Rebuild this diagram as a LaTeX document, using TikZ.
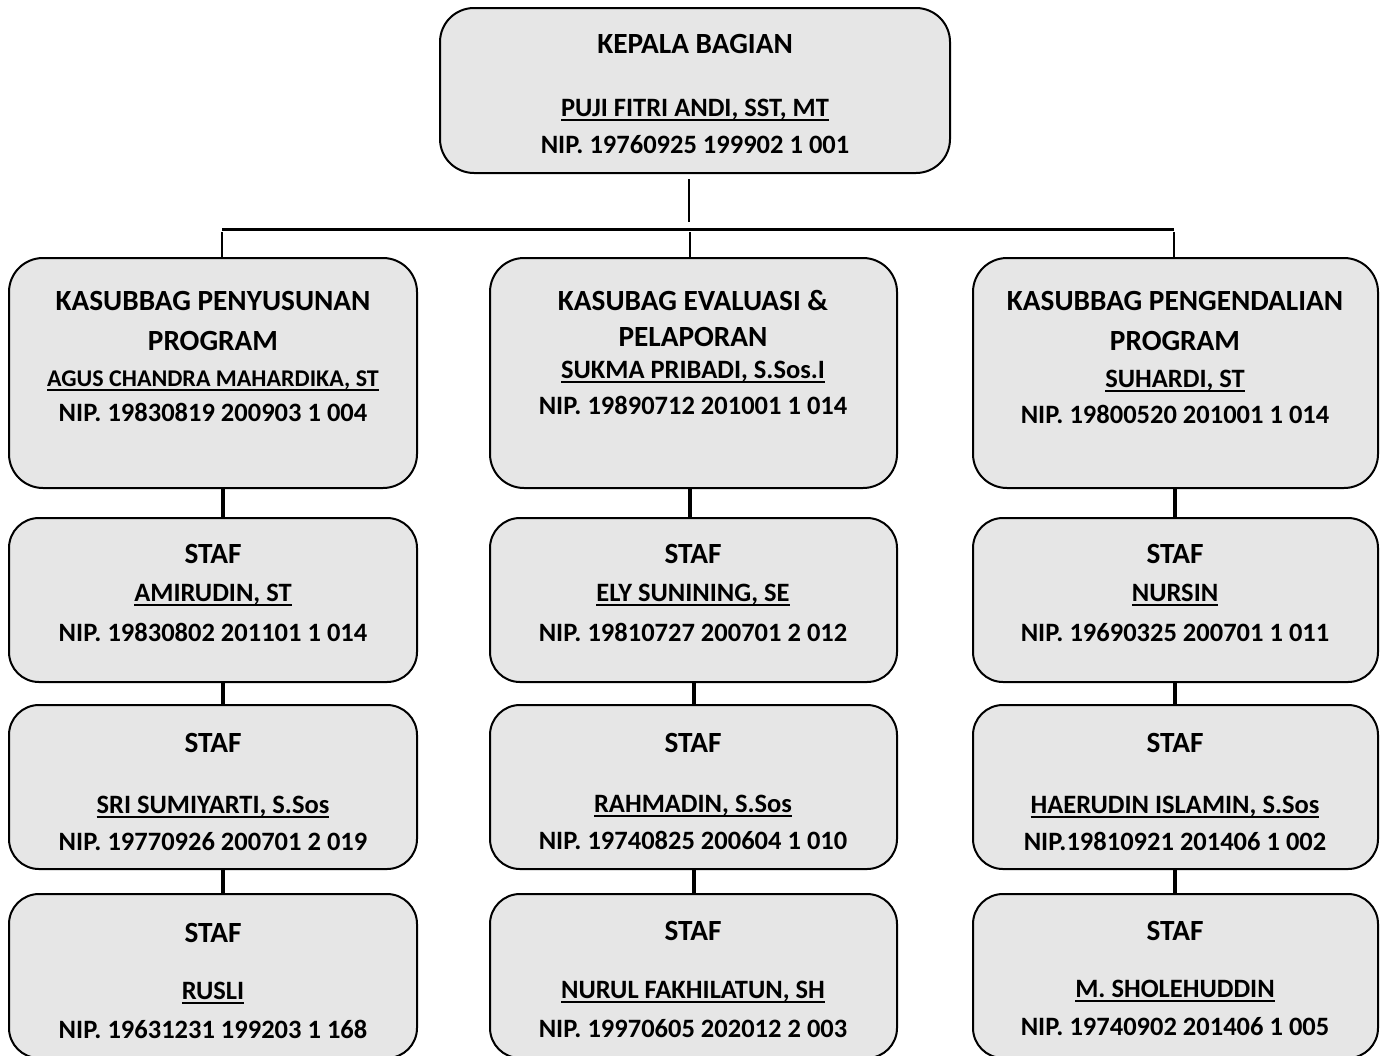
\documentclass[tikz,border=0pt]{standalone}
\usepackage{fontspec}
\setmainfont{Carlito}
\definecolor{boxfill}{HTML}{E6E6E6}
\newcommand\nameul[1]{\setbox0\hbox{#1}\rlap{\rule[-4.6pt]{\wd0}{2pt}}\box0}
\begin{document}
\begin{tikzpicture}[x=1pt,y=-1pt,
  box/.style={draw=black, line width=2pt, fill=boxfill, rounded corners=#1, inner sep=0pt},
  box/.default=34pt,
  txt/.style={anchor=base, font=\fontsize{26.5}{30}\selectfont\bfseries, inner sep=0pt},
  ttl/.style={anchor=base, font=\fontsize{29.3}{33}\selectfont\bfseries, inner sep=0pt},
  sml/.style={anchor=base, font=\fontsize{24}{28}\selectfont\bfseries, inner sep=0pt},
  link/.style={line width=4pt},
  tree/.style={line width=2.2pt},
  bar/.style={line width=3pt}]
\useasboundingbox (0,0) rectangle (1380,1055);
\clip (0,0) rectangle (1380,1055);

% ---- boxes
\node[box] (top) at (695,90.5) [minimum width=510pt, minimum height=165pt] {};

\node[box] (k1) at (213,373) [minimum width=408pt, minimum height=230pt] {};
\node[box] (k2) at (693.5,373) [minimum width=407pt, minimum height=230pt] {};
\node[box] (k3) at (1175.5,373) [minimum width=405pt, minimum height=230pt] {};

\foreach \c/\x/\w in {1/213/408, 2/693.5/407, 3/1175.5/405}{
  \node[box=30pt] (a\c) at (\x,600) [minimum width=\w pt, minimum height=164pt] {};
  \node[box=30pt] (b\c) at (\x,787) [minimum width=\w pt, minimum height=164pt] {};
  \node[box=30pt] (c\c) at (\x,976) [minimum width=\w pt, minimum height=164pt] {};
}

% ---- tree connectors
\coordinate (t1) at (689,179);
\coordinate (t2) at (689,222);
\coordinate (hl) at (222,229);
\coordinate (hr) at (1174,229);
\coordinate (d1) at (222,232);
\coordinate (d2) at (690,232);
\coordinate (d3) at (1174,232);
\draw[tree] (t1) -- (t2);
\draw[bar] (hl) -- (hr);
\draw[tree] (d1) -- (d1 |- k1.north);
\draw[tree] (d2) -- (d2 |- k2.north);
\draw[tree] (d3) -- (d3 |- k3.north);

% ---- column connectors
\coordinate (x1) at (222.5,0);
\coordinate (x2a) at (690,0);
\coordinate (x2) at (694,0);
\coordinate (x3) at (1174.5,0);
\draw[link] (k1.south -| x1) -- (a1.north -| x1);
\draw[link] (a1.south -| x1) -- (b1.north -| x1);
\draw[link] (b1.south -| x1) -- (c1.north -| x1);
\draw[link] (k2.south -| x2a) -- (a2.north -| x2a);
\draw[link] (a2.south -| x2) -- (b2.north -| x2);
\draw[link] (b2.south -| x2) -- (c2.north -| x2);
\draw[link] (k3.south -| x3) -- (a3.north -| x3);
\draw[link] (a3.south -| x3) -- (b3.north -| x3);
\draw[link] (b3.south -| x3) -- (c3.north -| x3);

% ---- texts: top
\node[ttl] (top1) at (695,53) {KEPALA BAGIAN};
\node[txt] (top2) at (695,116.7) {\nameul{PUJI FITRI ANDI, SST, MT}};
\node[txt] (top3) at (695,153.5) {NIP. 19760925 199902 1 001};

% ---- row 1
\node[ttl] (k1t1) at (213,310) {KASUBBAG PENYUSUNAN};
\node[ttl] (k1t2) at (213,350) {PROGRAM};
\node[sml] (k1t3) at (213,386.7) {\nameul{AGUS CHANDRA MAHARDIKA, ST}};
\node[txt] (k1t4) at (213,421.7) {NIP. 19830819 200903 1 004};

\node[ttl] (k2t1) at (693,310) {KASUBAG EVALUASI \&};
\node[ttl] (k2t2) at (693,346.5) {PELAPORAN};
\node[txt] (k2t3) at (693,378.5) {\nameul{SUKMA PRIBADI, S.Sos.I}};
\node[txt] (k2t4) at (693,414.5) {NIP. 19890712 201001 1 014};

\node[ttl] (k3t1) at (1175,310) {KASUBBAG PENGENDALIAN};
\node[ttl] (k3t2) at (1175,350) {PROGRAM};
\node[txt] (k3t3) at (1175,387) {\nameul{SUHARDI, ST}};
\node[txt] (k3t4) at (1175,423) {NIP. 19800520 201001 1 014};

% ---- row 2
\node[ttl] (a1t1) at (213,563.5) {STAF};
\node[txt] (a1t2) at (213,601.5) {\nameul{AMIRUDIN, ST}};
\node[txt] (a1t3) at (213,641) {NIP. 19830802 201101 1 014};

\node[ttl] (a2t1) at (693,563.5) {STAF};
\node[txt] (a2t2) at (693,601.5) {\nameul{ELY SUNINING, SE}};
\node[txt] (a2t3) at (693,641) {NIP. 19810727 200701 2 012};

\node[ttl] (a3t1) at (1175,563.5) {STAF};
\node[txt] (a3t2) at (1175,601.5) {\nameul{NURSIN}};
\node[txt] (a3t3) at (1175,641) {NIP. 19690325 200701 1 011};

% ---- row 3
\node[ttl] (b1t1) at (213,752.5) {STAF};
\node[txt] (b1t2) at (213,813) {\nameul{SRI SUMIYARTI, S.Sos}};
\node[txt] (b1t3) at (213,850) {NIP. 19770926 200701 2 019};

\node[ttl] (b2t1) at (693,752.5) {STAF};
\node[txt] (b2t2) at (693,812) {\nameul{RAHMADIN, S.Sos}};
\node[txt] (b2t3) at (693,849) {NIP. 19740825 200604 1 010};

\node[ttl] (b3t1) at (1175,752.5) {STAF};
\node[txt] (b3t2) at (1175,813) {\nameul{HAERUDIN ISLAMIN, S.Sos}};
\node[txt] (b3t3) at (1175,850) {NIP.19810921 201406 1 002};

% ---- row 4
\node[ttl] (c1t1) at (213,942) {STAF};
\node[txt] (c1t2) at (213,999) {\nameul{RUSLI}};
\node[txt] (c1t3) at (213,1038) {NIP. 19631231 199203 1 168};

\node[ttl] (c2t1) at (693,940) {STAF};
\node[txt] (c2t2) at (693,998) {\nameul{NURUL FAKHILATUN, SH}};
\node[txt] (c2t3) at (693,1037) {NIP. 19970605 202012 2 003};

\node[ttl] (c3t1) at (1175,940) {STAF};
\node[txt] (c3t2) at (1175,997) {\nameul{M. SHOLEHUDDIN}};
\node[txt] (c3t3) at (1175,1035) {NIP. 19740902 201406 1 005};
\end{tikzpicture}
\end{document}
